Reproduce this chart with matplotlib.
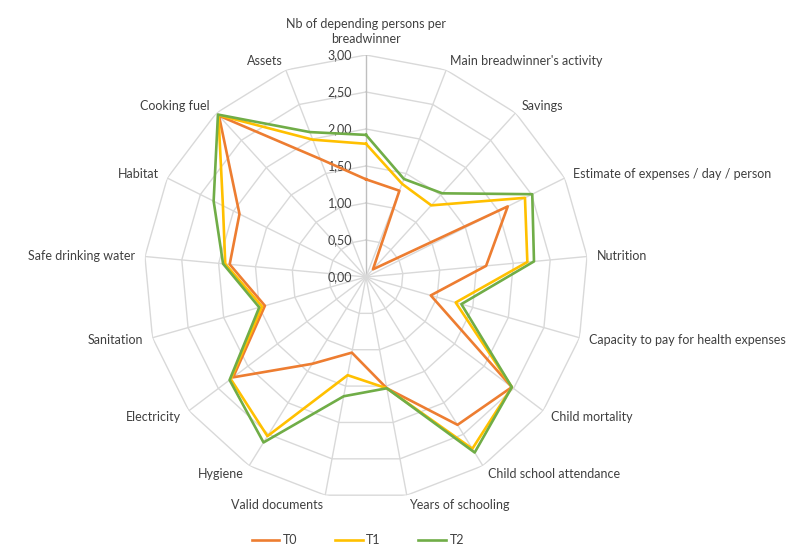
import numpy as np
import matplotlib
matplotlib.use("Agg")
import matplotlib.pyplot as plt

plt.rcParams['font.family'] = ['Lato', 'DejaVu Sans']

categories = ["Nb of depending persons per\nbreadwinner", "Main breadwinner's activity",
              "Savings", "Estimate of expenses / day / person", "Nutrition",
              "Capacity to pay for health expenses", "Child mortality",
              "Child school attendance", "Years of schooling", "Valid documents",
              "Hygiene", "Electricity", "Sanitation", "Safe drinking water",
              "Habitat", "Cooking fuel", "Assets"]

t0 = [1.32, 1.25, 0.14, 2.14, 1.63, 0.91, 2.47, 2.35, 1.53, 1.04, 1.38, 2.25, 1.42, 1.85, 1.91, 2.95, 1.71]
t1 = [1.80, 1.35, 1.31, 2.40, 2.19, 1.26, 2.47, 2.73, 1.53, 1.35, 2.53, 2.29, 1.46, 1.91, 2.16, 2.96, 1.99]
t2 = [1.92, 1.42, 1.53, 2.51, 2.28, 1.34, 2.47, 2.79, 1.53, 1.64, 2.63, 2.31, 1.50, 1.94, 2.30, 2.97, 2.10]

series = ["T0", "T1", "T2"]
colors = ["#ED7D31", "#FFC000", "#70AD47"]
ticks = [0, 0.5, 1.0, 1.5, 2.0, 2.5, 3.0]
tick_labels = ["0,00", "0,50", "1,00", "1,50", "2,00", "2,50", "3,00"]

n = len(categories)
theta = np.arange(n) * 2 * np.pi / n
theta_c = np.append(theta, theta[0])

fig = plt.figure(figsize=(8.09, 5.46), dpi=100)
ax = fig.add_axes([0.178, 0.0861, 0.5488, 0.8132], projection="polar")
ax.set_theta_zero_location("N")
ax.set_theta_direction(-1)
ax.set_ylim(0, 3)
ax.grid(False)
ax.spines["polar"].set_visible(False)
ax.set_xticks([])
ax.set_yticks([])
ax.patch.set_alpha(0)

grid_col = "#D9D9D9"
# polygon grid rings
for r in ticks[1:]:
    ax.plot(theta_c, [r] * (n + 1), color=grid_col, lw=1, zorder=1)
# spokes
for i, t in enumerate(theta):
    ax.plot([t, t], [0, 3], color="#BFBFBF" if i == 0 else grid_col, lw=1, zorder=1)

# tick labels along the top spoke
for r, lab in zip(ticks, tick_labels):
    ax.annotate(lab, xy=(0, r), xytext=(-10, 0), textcoords="offset points",
                ha="right", va="center", fontsize=9, color="#404040")

# category labels
for t, lab in zip(theta, categories):
    s, c = np.sin(t), np.cos(t)
    if abs(s) < 0.05:
        ha = "center"
    elif s > 0:
        ha = "left"
    else:
        ha = "right"
    va = "bottom" if c > 0.99 else "center"
    off = 7
    ax.annotate(lab, xy=(t, 3), xytext=(off * s, off * c), textcoords="offset points",
                ha=ha, va=va, fontsize=9, color="#404040", linespacing=1.3,
                annotation_clip=False)

# data
for name, vals, col in zip(series, [t0, t1, t2], colors):
    ax.plot(theta_c, vals + vals[:1], color=col, lw=1.9, label=name, zorder=3)

fig.legend(loc="center", bbox_to_anchor=(358 / 809, 6 / 546), ncol=3, frameon=False,
           fontsize=9, handlelength=2.2, columnspacing=3.0, handletextpad=0.3,
           labelcolor="#404040")

fig.savefig("out.png", dpi=100)
